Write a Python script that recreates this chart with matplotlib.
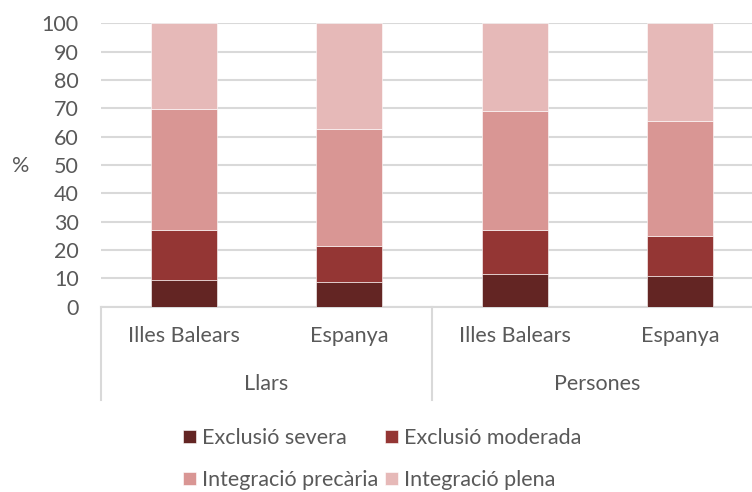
import matplotlib
matplotlib.use("Agg")
import matplotlib.pyplot as plt
import matplotlib.transforms as mtransforms
import numpy as np

plt.rcParams['font.family'] = ['Lato', 'DejaVu Sans']

categories = ["Illes Balears", "Espanya", "Illes Balears", "Espanya"]
groups = ["Llars", "Persones"]
series_names = ["Exclusió severa", "Exclusió moderada", "Integració precària", "Integració plena"]
exclusio_severa = [9.4, 8.6, 11.4, 10.7]
exclusio_moderada = [17.7, 12.9, 15.8, 14.3]
integracio_precaria = [42.7, 41.3, 42.0, 40.7]
integracio_plena = [30.2, 37.2, 30.8, 34.3]
yticks = list(range(0, 101, 10))

colors = ["#632523", "#943634", "#D99694", "#E6B9B8"]
text_color = "#595959"
grid_color = "#D9D9D9"
fs = 15.5

fig = plt.figure(figsize=(7.52, 4.92), dpi=100)
ax = fig.add_axes([101 / 752, 1 - 306.7 / 492, 662 / 752, 283.4 / 492])

x = np.arange(len(categories))
bottom = np.zeros(len(categories))
handles = []
for name, vals, c in zip(series_names,
                         [exclusio_severa, exclusio_moderada, integracio_precaria, integracio_plena],
                         colors):
    h = ax.bar(x, vals, width=0.4, bottom=bottom, color=c, edgecolor="white",
               linewidth=0.4, label=name, zorder=3)
    handles.append(h)
    bottom += np.array(vals)

ax.set_xlim(-0.5, len(categories) - 0.5)
ax.set_ylim(0, 100)
ax.set_yticks(yticks)
ax.set_yticklabels([str(v) for v in yticks], fontsize=fs, color=text_color)
ax.yaxis.grid(True, color=grid_color, linewidth=1.5, zorder=0)
ax.tick_params(axis='y', length=0, pad=16)
ax.tick_params(axis='x', length=0, pad=14)
ax.set_xticks(x)
ax.set_xticklabels(categories, fontsize=fs, color=text_color)
for side in ["left", "right", "top"]:
    ax.spines[side].set_visible(False)
ax.spines["bottom"].set_color(grid_color)
ax.spines["bottom"].set_linewidth(1.5)

# Two-level category axis: group labels and separators
trans = mtransforms.blended_transform_factory(ax.transData, ax.transAxes)
for xs in [-0.5, 1.5, 3.5]:
    ax.plot([xs, xs], [0, -0.33], transform=trans, color=grid_color,
            linewidth=1.5, clip_on=False)
for i, g in enumerate(groups):
    ax.text(2 * i + 0.5, -0.273, g, transform=trans, ha="center", va="center",
            fontsize=fs, color=text_color)

fig.text(21 / 752, 1 - 166 / 492, "%", ha="center", va="center",
         fontsize=fs, color=text_color)

# Legend laid out row by row: severa, moderada / precària, plena
order = [0, 2, 1, 3]
leg = fig.legend([handles[i] for i in order], [series_names[i] for i in order],
                 loc="center", bbox_to_anchor=(382 / 752, 1 - 459 / 492), ncol=2,
                 frameon=False, fontsize=fs, handlelength=0.6, handleheight=0.6,
                 handletextpad=0.3, columnspacing=0.3, labelspacing=1.02)
for t in leg.get_texts():
    t.set_color(text_color)

fig.savefig("out.png", dpi=100)
